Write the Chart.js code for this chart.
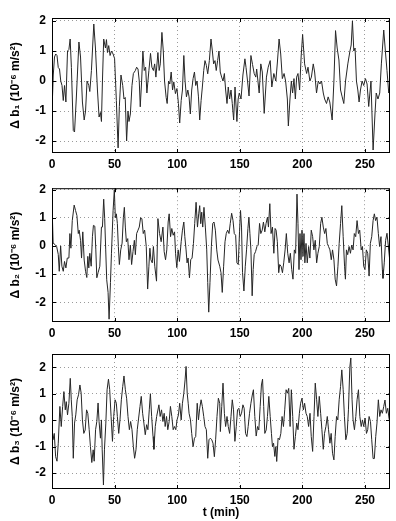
<!DOCTYPE html>
<html>
<head>
<meta charset="utf-8">
<script src="https://cdn.jsdelivr.net/npm/chart.js@4/dist/chart.umd.min.js"></script>
<style>
  body { margin: 0; background: #fff; }
  canvas { position: absolute; left: 0; }
</style>
</head>
<body>
<canvas id="panel1" width="396" height="175" style="top:0px"></canvas>
<canvas id="panel2" width="396" height="165" style="top:175px"></canvas>
<canvas id="panel3" width="396" height="181" style="top:340px"></canvas>
<script>
// tick labels
const xTickValues = [0, 50, 100, 150, 200, 250];
const yTickValues = [-2, -1, 0, 1, 2];

// panel 1: delta b1
const t1 = [0,1,2,3,4,5,6,7,8,9,10,11.1,12.4,13.5,14.5,15.5,17,18,19.5,21.5,22.8,24.3,25.7,26.8,28,29.4,30.2,31.5,33.4,34.7,36.3,37.6,38.7,39.5,40.3,41.3,42.7,43.5,44.3,45.3,46.4,47.5,48.8,50,51.4,52.8,53.8,55.1,56.5,57.5,58.5,59.6,60.7,61.5,62.6,63.9,65,66.6,67.6,68.7,69.7,70.5,71.6,72.6,73.7,74.8,75.8,77.4,78.7,79.8,81,82,83,84.6,85.6,86.5,87.8,88.9,89.9,91.2,92,93.1,94.1,95.2,96.3,97.3,98.6,99.8,101,102,103.2,104.2,105.3,106.3,107.4,108.5,109.5,110.5,111.6,112.7,113.8,114.8,115.9,117,118,119.1,120.1,121.2,122.2,123.3,124.4,125.7,127,128.1,129.1,130.2,131.2,132.3,133.4,134.4,135.5,136.6,137.7,138.7,139.8,140.8,141.9,143,144,145.1,146.2,147.7,148.7,149.6,151,152.5,154.1,155,156.2,157.4,158.9,160.2,161.5,162.8,163.5,165.5,166.8,168,169.5,171.3,172.7,174.3,175.6,177.2,178.8,180,181.4,182.7,184,185.4,186.6,188,188.8,190.1,191.2,192.2,193.3,194.4,195.4,196.5,197.8,199,200.2,201.8,203.4,204.5,206,207.2,208.7,209.8,211.3,212.7,214,215.3,216.7,217.8,219.3,220.6,221.9,223.8,225.2,226.5,227.8,229.2,230.5,231.8,233.1,234.5,236.3,238,239,240,241.1,242.1,243.2,244.3,245.3,246.4,247.7,249,250.4,251.7,253,254.8,256.5,258,259,260.4,261.8,263.1,265,266.3,267.6,269,270];
const b1 = [-1.0,0.2,0.8,0.9,0.85,0.45,0.4,0.0,-0.15,-0.65,-0.15,-0.7,1.0,1.05,1.4,0.45,-1.65,-1.7,-0.5,1.3,0.8,-0.7,-1.3,-1.0,0.0,-0.15,-0.35,0.35,1.9,1.1,-0.3,-1.2,-1.05,-1.35,0.0,1.4,1.1,1.38,0.95,1.18,0.85,1.0,0.9,0.75,-0.65,-2.23,-0.85,0.2,-0.15,-0.6,-0.55,-2.0,-1.0,-1.35,-1.1,-0.15,0.25,0.35,0.46,0.4,0.0,-0.86,0.0,1.0,0.35,0.46,-0.4,0.35,0.92,0.46,0.35,0.57,0.13,0.95,0.35,0.57,1.62,1.0,0.0,-0.55,-0.75,0.0,-0.1,0.3,-0.3,-0.03,-0.42,-0.25,-0.75,-1.4,-0.65,-0.3,0.85,0.0,-0.53,-0.3,-0.53,-1.1,-0.3,0.08,0.3,-0.15,0.0,-0.53,-1.3,-0.65,-0.2,0.35,0.68,0.52,0.24,0.68,1.4,1.0,0.57,0.68,0.35,0.68,1.0,0.3,0.13,0.0,0.25,-0.3,-0.75,-0.2,-0.6,-0.3,-0.75,-1.3,-0.2,-1.35,-0.6,-0.4,-0.6,0.2,0.74,0.45,0.0,-0.5,0.85,0.55,0.25,0.13,0.4,-0.4,0.57,0.3,-1.08,0.13,0.46,0.68,-0.2,0.25,0.0,0.6,1.4,0.9,0.08,0.25,0.0,-0.6,-1.5,-0.6,0.0,-0.4,0.08,-0.6,0.13,0.25,-0.3,0.8,1.55,0.57,0.25,0.46,0.0,0.13,0.57,0.3,-0.4,0.0,-0.1,0.0,-0.4,-0.6,-0.75,-0.53,-0.7,-1.3,0.0,1.68,1.1,0.7,-0.3,-0.53,-0.75,0.0,0.57,1.0,1.2,2.0,1.0,1.1,0.0,-0.3,-0.7,-0.3,0.0,-0.15,0.08,-0.1,-0.85,0.0,-2.3,-1.1,-0.4,-0.6,-0.4,0.57,1.7,1.0,0.35,-0.4,-0.2];

// panel 2: delta b2
const t2 = [0,0.9,2.4,3.7,5,5.8,6.9,7.9,9,10,11.1,12.2,13.5,14.3,15.1,16.2,17.7,18.8,19.9,21,21.7,22.8,23.6,24.6,25.7,26.8,27.8,28.6,29.4,30.2,31.3,32.3,33.1,34.2,35,35.8,36.8,38.2,39.5,40.3,41.3,42.1,42.9,43.7,44.8,45.6,46.7,47.5,48.8,49.8,50.6,51.4,52.2,53,53.8,54.9,56,57,57.8,58.6,59.4,60.5,61.5,62.6,63.6,64.7,65.8,66.6,67.6,68.7,69.7,70.8,71.8,72.9,74,75.3,76.4,77.4,78.2,79,80.1,81,82.1,83.5,84.6,85.9,87.2,88.6,89.6,90.7,91.7,92.8,93.6,94.7,95.7,96.8,97.9,98.7,99.7,100.8,101.8,103.2,104.2,105.3,106.1,107.1,107.9,108.7,109.8,110.8,111.9,113,114,115.1,116.2,117.2,118,118.8,119.6,120.4,121.4,122.5,123.6,124.4,125.2,126.2,127.3,128.4,129.4,130.5,131.6,132.6,134,135,136,137.1,138.2,139.2,140.3,141.4,142.4,143.5,144.6,145.6,146.7,147.7,148.8,149.8,150.6,151.4,152.2,153.3,154.4,155.4,156.5,157.3,158.1,158.9,159.9,160.7,161.5,162.6,163.7,164.7,165.8,166.8,167.9,168.9,170,171,172.1,172.9,174,175,176.1,177.2,178.2,179,180,181.1,181.9,183,184.1,185.1,186.2,187.2,188.3,189.4,190.4,191.5,192.5,193.6,194.6,195.7,196.5,197.3,198.1,198.9,199.7,200.5,201.3,202,202.9,203.9,205,206,207.1,208.2,209.2,210.3,211.4,212.4,213.5,214.6,215.6,216.7,217.8,218.8,219.9,220.9,222,223.1,224.1,225.2,226.2,227.3,228.4,229.4,230.5,231.5,232.6,233.7,234.4,235.2,236.2,237.3,238.4,239.4,240.5,241.5,242.6,243.7,244.8,245.8,247,248,249,250,251.1,252.2,253.3,254.3,255.4,256.5,257.5,258.5,259.6,260.7,261.7,262.8,263.9,264.4,265.4,266.5,267.6,268.7,270];
const b2 = [1.5,0.1,0.05,-0.02,-0.3,-0.9,0.0,-0.72,-0.9,-0.55,-0.78,-0.43,-0.43,0.44,-0.08,0.9,1.45,1.26,1.08,0.44,0.56,0.2,-0.43,0.5,-0.5,-0.9,-1.12,-0.37,-0.78,-0.26,-0.72,0.33,0.73,0.7,-0.14,-1.13,-0.95,-0.72,0.67,0.67,1.66,0.97,-0.14,-1.2,-1.65,-2.6,-1.3,-0.26,1.25,2.0,1.0,1.14,0.8,-0.02,-0.66,-0.14,0.1,1.0,1.37,0.67,0.15,0.26,-0.49,0.03,-0.66,-0.2,0.2,-0.31,0.44,0.56,0.67,1.0,0.97,0.44,0.56,-0.02,-1.53,-0.72,-0.08,-0.49,-0.6,-0.02,-0.72,-1.25,0.97,0.44,0.15,0.67,-0.2,-0.49,-0.14,0.85,1.14,0.33,0.62,0.38,0.5,-0.26,-0.77,-0.14,-0.55,0.15,0.56,0.85,0.33,-0.14,-0.6,-0.43,-1.13,-0.49,-0.43,0.09,0.8,1.55,0.67,1.14,1.43,0.79,1.2,0.67,1.37,0.67,-0.14,-1.3,-2.35,-1.3,-0.02,0.8,0.85,0.56,-0.14,-0.5,-0.72,-0.95,-1.65,-0.72,0.15,0.44,0.56,0.44,0.8,1.16,0.9,0.44,0.38,-0.6,-0.66,0.5,1.26,0.67,-0.95,-1.6,-0.72,-0.14,0.62,1.02,0.44,-0.14,-1.77,-0.84,-0.31,-0.2,-0.02,0.03,0.8,0.44,0.56,0.85,0.5,0.8,1.02,0.67,1.5,0.44,0.67,-0.26,0.62,0.56,0.15,-0.95,-0.66,-0.72,-0.95,-0.6,-0.14,0.44,-0.26,-0.6,-0.26,-0.84,-1.18,-0.14,-0.26,1.84,0.8,-0.84,0.44,-0.49,0.56,-0.37,0.44,-0.6,0.09,-0.6,-0.02,-0.43,0.56,0.33,-0.14,0.2,-0.6,-0.26,-0.02,0.8,1.02,0.67,0.44,0.62,0.09,-0.02,-0.14,-0.49,-0.14,-0.49,-1.18,-1.42,-0.72,0.09,0.8,1.43,0.33,-0.72,-1.18,-0.14,-0.31,-0.02,-0.26,0.03,-0.14,0.44,0.33,0.9,0.44,0.56,-0.14,-0.02,-0.72,-0.84,-0.14,-0.26,-1.07,0.09,0.33,0.9,1.14,0.9,1.02,0.44,-0.02,0.33,-0.84,-1.15,-0.6,0.2,0.45,-0.02,-0.6];

// panel 3: delta b3
const t3 = [0,0.8,1.8,2.9,4,5,6.3,7.4,8.5,9.5,10.6,11.4,12.4,13.5,14.6,15.4,16.2,17,18,19,20.1,21.2,22.3,23.3,24.3,25.4,26.5,27.6,28.6,29.7,30.7,31.8,32.9,33.7,34.8,35.8,36.8,37.6,38.7,39.5,40.1,41.1,41.9,43,44,45.1,46.1,47.2,48.3,49.3,50.4,51.4,52.2,53.3,54.3,55.4,56.5,57.5,58.6,59.6,60.7,61.8,62.8,63.9,65,66,67.1,68.1,69.2,70.3,71.3,72.4,73.4,74.5,75.6,76.6,77.7,78.6,79.6,80.7,81.4,82.5,83.6,85.4,86.4,87.5,88.6,89.6,90.4,91.5,92.5,93.6,94.6,95.7,96.8,97.8,98.9,99.9,101,102,103.2,104.2,105.3,106.3,107.1,108,108.8,109.5,110.6,111.6,112.7,113.8,114.8,116,117,118,119.1,120.1,121.2,122.2,123.3,124.4,125.4,126.5,127.6,128.6,129.7,130.7,131.8,132.9,134,134.5,135.6,136.6,137.7,138.7,139.8,140.8,141.9,143,144,145,146.1,147.2,148.2,149.3,150.3,151.4,152.5,153.5,154.6,155.7,156.7,157.8,158.9,160,160.9,162,163.1,164.2,165.2,166.3,167.3,168.2,169.1,170,171.1,172.1,173.2,174.3,175.3,176.1,177,178,178.8,179.5,180.6,181.7,182.8,183.8,184.9,185.9,187,188,189.1,190.2,191.2,192.3,193.3,194.4,195.5,196.5,197.6,198.6,199.7,200.8,201.8,202.9,203.9,205,206.1,207.1,208.2,209.3,210.3,211.4,212.4,213.5,214.6,215.6,216.7,217.7,218.8,219.9,220.9,222,223,224.1,225.2,226.2,227.3,228.3,229.4,230.5,231.5,232.6,233.6,234.7,235.8,236.8,237.9,238.7,239.7,240.5,241.6,242.7,243.7,244.8,245.9,247,248,249,250.1,251.2,252.2,253.3,254.4,255.4,256.5,257.5,258.6,259.6,260.7,261.8,262.8,263.9,265,266,267.1,268.2,269.2,270];
const b3 = [-0.36,-0.74,-0.5,-1.38,-1.55,-0.87,0.52,-0.24,0.52,1.08,0.39,0.7,0.2,0.64,1.58,0.77,0.14,-1.44,-0.11,0.2,0.77,0.96,1.33,1.02,0.01,-0.5,-0.37,0.39,0.26,-0.36,-1.0,-1.6,-1.12,-1.55,-0.36,-0.05,0.65,-0.05,-0.68,0.01,-1.12,-2.45,-1.12,-0.11,1.15,1.55,1.15,0.14,-0.8,0.14,0.77,0.64,0.14,-0.5,0.01,0.77,1.27,1.67,1.15,0.83,0.14,-0.36,-0.05,-0.36,-1.0,-1.44,-1.12,-0.36,0.08,0.52,0.9,0.26,-0.11,-0.55,-0.17,-0.36,0.39,1.0,0.14,-0.62,-1.1,-0.24,0.14,0.58,0.14,0.39,-0.05,0.26,-0.24,0.14,-0.36,-0.05,0.52,0.14,-0.36,-0.24,-0.36,0.01,0.2,0.64,0.01,0.64,1.02,1.52,2.03,1.02,0.64,0.26,0.01,-0.5,-1.0,-0.68,-0.62,0.64,0.01,0.45,0.77,0.52,0.14,-0.24,-0.36,-1.44,-0.74,-0.68,-0.74,-0.87,-1.38,-0.74,0.14,0.83,0.64,-0.43,0.52,1.4,0.26,-0.24,0.14,-0.24,-0.5,0.14,0.77,0.39,-0.8,-0.24,0.39,0.45,0.14,0.26,0.58,0.45,-0.5,-0.62,-0.24,0.26,0.64,0.95,1.15,0.14,-0.6,-0.24,-0.37,0.52,1.33,1.55,0.52,-0.5,-0.37,0.14,0.9,0.14,-0.5,-1.0,-0.87,-1.37,-1.0,-1.56,-0.68,-0.74,-0.5,0.14,-0.24,0.39,1.15,1.02,1.2,-0.24,1.15,0.14,-1.1,-0.62,-0.11,-0.36,0.26,0.64,0.83,0.39,0.64,0.26,0.14,-0.24,0.26,-0.62,-1.18,0.14,1.4,0.77,0.14,0.9,0.26,-0.36,-1.1,-0.5,-0.24,0.14,-0.36,-0.87,-0.5,-1.25,-1.5,-0.62,0.14,0.01,0.77,1.27,1.9,1.15,0.14,-0.74,-0.5,0.39,2.0,2.35,0.77,0.01,-0.36,0.14,0.77,1.15,0.14,-0.24,0.01,-0.24,0.08,-0.5,-0.36,0.14,-0.05,-0.74,-1.45,-1.45,-0.62,-0.11,0.77,0.14,0.39,0.26,0.52,0.76,0.26,0.45,0.08,-0.11];

const FONT = "'Liberation Sans', Arial, sans-serif";

/* box round the plot area, with short inward ticks on all sides */
const boxPlugin = {
  id: "box",
  afterDraw(chart) {
    const { ctx, chartArea: a, scales } = chart;
    ctx.save();
    ctx.strokeStyle = "#000";
    ctx.lineWidth = 1;
    ctx.strokeRect(a.left + 0.5, a.top + 0.5, a.width - 1, a.height - 1);
    ctx.beginPath();
    scales.x.ticks.forEach(t => {
      const px = Math.round(scales.x.getPixelForValue(t.value)) + 0.5;
      ctx.moveTo(px, a.bottom); ctx.lineTo(px, a.bottom - 4);
      ctx.moveTo(px, a.top); ctx.lineTo(px, a.top + 4);
    });
    scales.y.ticks.forEach(t => {
      const py = Math.round(scales.y.getPixelForValue(t.value)) + 0.5;
      ctx.moveTo(a.left, py); ctx.lineTo(a.left + 4, py);
      ctx.moveTo(a.right, py); ctx.lineTo(a.right - 4, py);
    });
    ctx.stroke();
    ctx.restore();
  }
};

function makePanel(id, times, values, yMin, yMax, yTitle, padTop, xHeight, xTitle) {
  const points = times.map((t, i) => ({ x: t, y: values[i] }));
  return new Chart(document.getElementById(id), {
    type: "line",
    data: {
      datasets: [{
        data: points,
        borderColor: "#262626",
        borderWidth: 1,
        pointRadius: 0,
        tension: 0
      }]
    },
    options: {
      responsive: false,
      animation: false,
      layout: { padding: { top: padTop, right: 6, left: 0, bottom: 0 } },
      plugins: { legend: { display: false }, tooltip: { enabled: false } },
      scales: {
        x: {
          type: "linear",
          min: 0,
          max: 270,
          afterBuildTicks: s => { s.ticks = xTickValues.map(v => ({ value: v })); },
          afterFit: s => { s.height = xHeight; },
          grid: { color: "#9a9a9a", drawTicks: false },
          border: { display: false, dash: [1, 3] },
          ticks: { color: "#000", padding: 4, maxRotation: 0, font: { family: FONT, size: 12, weight: "bold" } },
          title: {
            display: !!xTitle,
            text: xTitle || "",
            color: "#000",
            padding: { top: 0, bottom: 1 },
            font: { family: FONT, size: 12, weight: "bold" }
          }
        },
        y: {
          min: yMin,
          max: yMax,
          afterBuildTicks: s => { s.ticks = yTickValues.map(v => ({ value: v })); },
          afterFit: s => { s.width = 52; },
          grid: { color: "#9a9a9a", drawTicks: false },
          border: { display: false, dash: [1, 3] },
          ticks: { color: "#000", padding: 6, font: { family: FONT, size: 12, weight: "bold" } },
          title: {
            display: true,
            text: yTitle,
            color: "#000",
            padding: { top: 8, bottom: 0 },
            font: { family: FONT, size: 12, weight: "bold" }
          }
        }
      }
    },
    plugins: [boxPlugin]
  });
}

makePanel("panel1", t1, b1, -2.4, 2.1, "Δ b₁ (10⁻⁶ m/s²)", 18, 22, null);
makePanel("panel2", t2, b2, -2.7, 2.05, "Δ b₂ (10⁻⁶ m/s²)", 11, 18, null);
makePanel("panel3", t3, b3, -2.6, 2.5, "Δ b₃ (10⁻⁶ m/s²)", 14, 32, "t (min)");
</script>
</body>
</html>
